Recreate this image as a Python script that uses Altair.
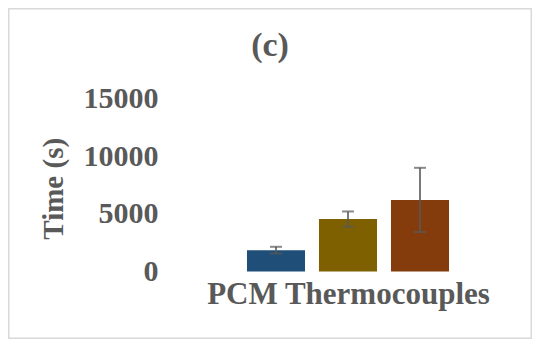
import altair as alt
import pandas as pd

series = ["Series 1", "Series 2", "Series 3"]
values = [1850, 4540, 6200]
errors = [290, 660, 2780]
colors = ["#1F4E79", "#7F6000", "#843C0C"]
y_ticks = [0, 5000, 10000, 15000]

df = pd.DataFrame({"series": series, "value": values, "err": errors})
df["lo"] = df["value"] - df["err"]
df["hi"] = df["value"] + df["err"]

FONT = "Liberation Serif"
GREY = "#595959"

x_enc = alt.X(
    "series:N",
    sort=series,
    scale=alt.Scale(paddingInner=0.194, paddingOuter=0.097),
    axis=alt.Axis(
        labels=False, ticks=False, domain=False, title="PCM Thermocouples",
        titleFont=FONT, titleFontSize=31, titleFontWeight="bold", titleColor=GREY,
        titleY=31.5, titleBaseline="alphabetic",
    ),
)
y_scale = alt.Scale(domain=[0, 15000], nice=False)

bars = alt.Chart(df).mark_bar().encode(
    x=x_enc,
    y=alt.Y(
        "value:Q",
        scale=y_scale,
        axis=alt.Axis(
            values=y_ticks, format="d", grid=False, ticks=False, domain=False,
            labelFont=FONT, labelFontSize=30, labelFontWeight="bold", labelColor=GREY,
            labelPadding=82, title="Time (s)",
            titleFont=FONT, titleFontSize=29, titleFontWeight="bold", titleColor=GREY,
            titleX=-178, titleY=90, titleAngle=270, titleAlign="center",
            titleBaseline="alphabetic",
        ),
    ),
    color=alt.Color("series:N", scale=alt.Scale(domain=series, range=colors), legend=None),
)

rules = alt.Chart(df).mark_rule(color=GREY, strokeWidth=1.6).encode(
    x=alt.X("series:N", sort=series),
    y=alt.Y("lo:Q", scale=y_scale),
    y2="hi:Q",
)
caps_hi = alt.Chart(df).mark_tick(color=GREY, thickness=2, size=12, orient="horizontal").encode(
    x=alt.X("series:N", sort=series), y=alt.Y("hi:Q", scale=y_scale)
)
caps_lo = alt.Chart(df).mark_tick(color=GREY, thickness=2, size=12, orient="horizontal").encode(
    x=alt.X("series:N", sort=series), y=alt.Y("lo:Q", scale=y_scale)
)

# chart-area frame along the drawing's edges (plot origin sits at page x=240, y=98.3)
border = alt.Chart(df.head(1)).mark_rect(
    filled=False, stroke="#d9d9d9", strokeWidth=1.5, clip=False
).encode(
    x=alt.value(-231.25), x2=alt.value(291.25), y=alt.value(-89.55), y2=alt.value(239.95)
)

title = alt.Chart(df.head(1)).mark_text(
    text="(c)", font=FONT, fontSize=34, fontWeight="bold", color=GREY,
    align="center", baseline="alphabetic",
).encode(x=alt.value(30), y=alt.value(-42))

chart = alt.layer(border, bars, rules, caps_hi, caps_lo, title).properties(
    width=216,
    height=173.2,
    autosize=alt.AutoSizeParams(type="none"),
    padding={"left": 232, "top": 90.3, "right": 76, "bottom": 67.5},
    background="white",
).configure_view(stroke=None)

chart.save("out.html", embed_options={"renderer": "svg", "actions": False})
